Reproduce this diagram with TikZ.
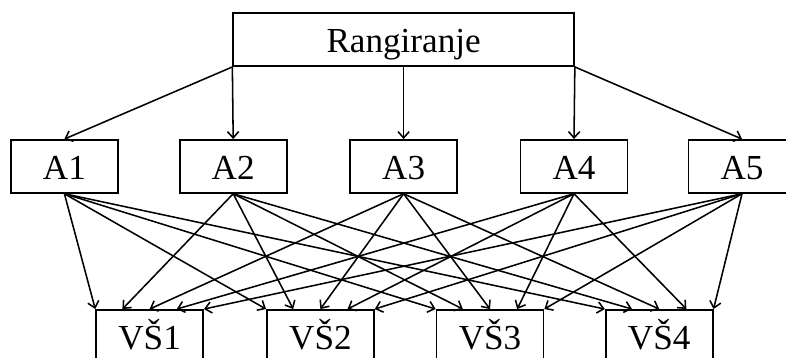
\documentclass[tikz,border=0pt]{standalone}
\usepackage{fontspec}
\setmainfont{Liberation Serif}
\usepackage{tikz}
\usetikzlibrary{positioning}
\usetikzlibrary{calc,arrows.meta}
\tikzstyle{box}=[rectangle,draw,line width=1.2pt,minimum width=2.675cm,minimum height=1.325cm,inner sep=0pt,text height=19pt,text depth=0pt,font=\fontsize{25}{28}\selectfont]
\tikzstyle{edge} = [draw,line width=1.1pt,-{Straight Barb[length=4.5pt,width=8pt]}]

\begin{document}
\begin{tikzpicture}
    \clip (0,0) rectangle (19.65,-8.95);
    % the goal on top
    \node[box,minimum width=8.52cm] (R) at (10.09,-0.99) {Rangiranje};
    % then the alternatives
    \foreach \pos/\name in {{(1.61,-4.16)/A1}, {(5.83,-4.16)/A2}, {(10.09,-4.16)/A3}, {(14.35,-4.16)/A4}, {(18.55,-4.16)/A5}}
        \node[box] (\name) at \pos {\name};
    % and the schools at the bottom
    \foreach \pos/\name/\txt in {{(3.74,-8.41)/V1/VŠ1}, {(8.01,-8.41)/V2/VŠ2}, {(12.25,-8.41)/V3/VŠ3}, {(16.48,-8.41)/V4/VŠ4}}
        \node[box] (\name) at \pos {\txt};
    % Connect goal with alternatives
    \path[edge] (R.south west) -- (A1.north);
    \path[edge] (R.south west) -- (A2.north);
    \path[edge] (R.south) -- (A3.north);
    \path[edge] (R.south east) -- (A4.north);
    \path[edge] (R.south east) -- (A5.north);
    % every alternative to every school
    \foreach \src/\f in {A1/0, A2/0.25, A3/0.5, A4/0.75, A5/1}
        \foreach \dest in {V1,V2,V3,V4}
            \path[edge] (\src.south) -- ($(\dest.north west)!\f!(\dest.north east)$);
\end{tikzpicture}
\end{document}
